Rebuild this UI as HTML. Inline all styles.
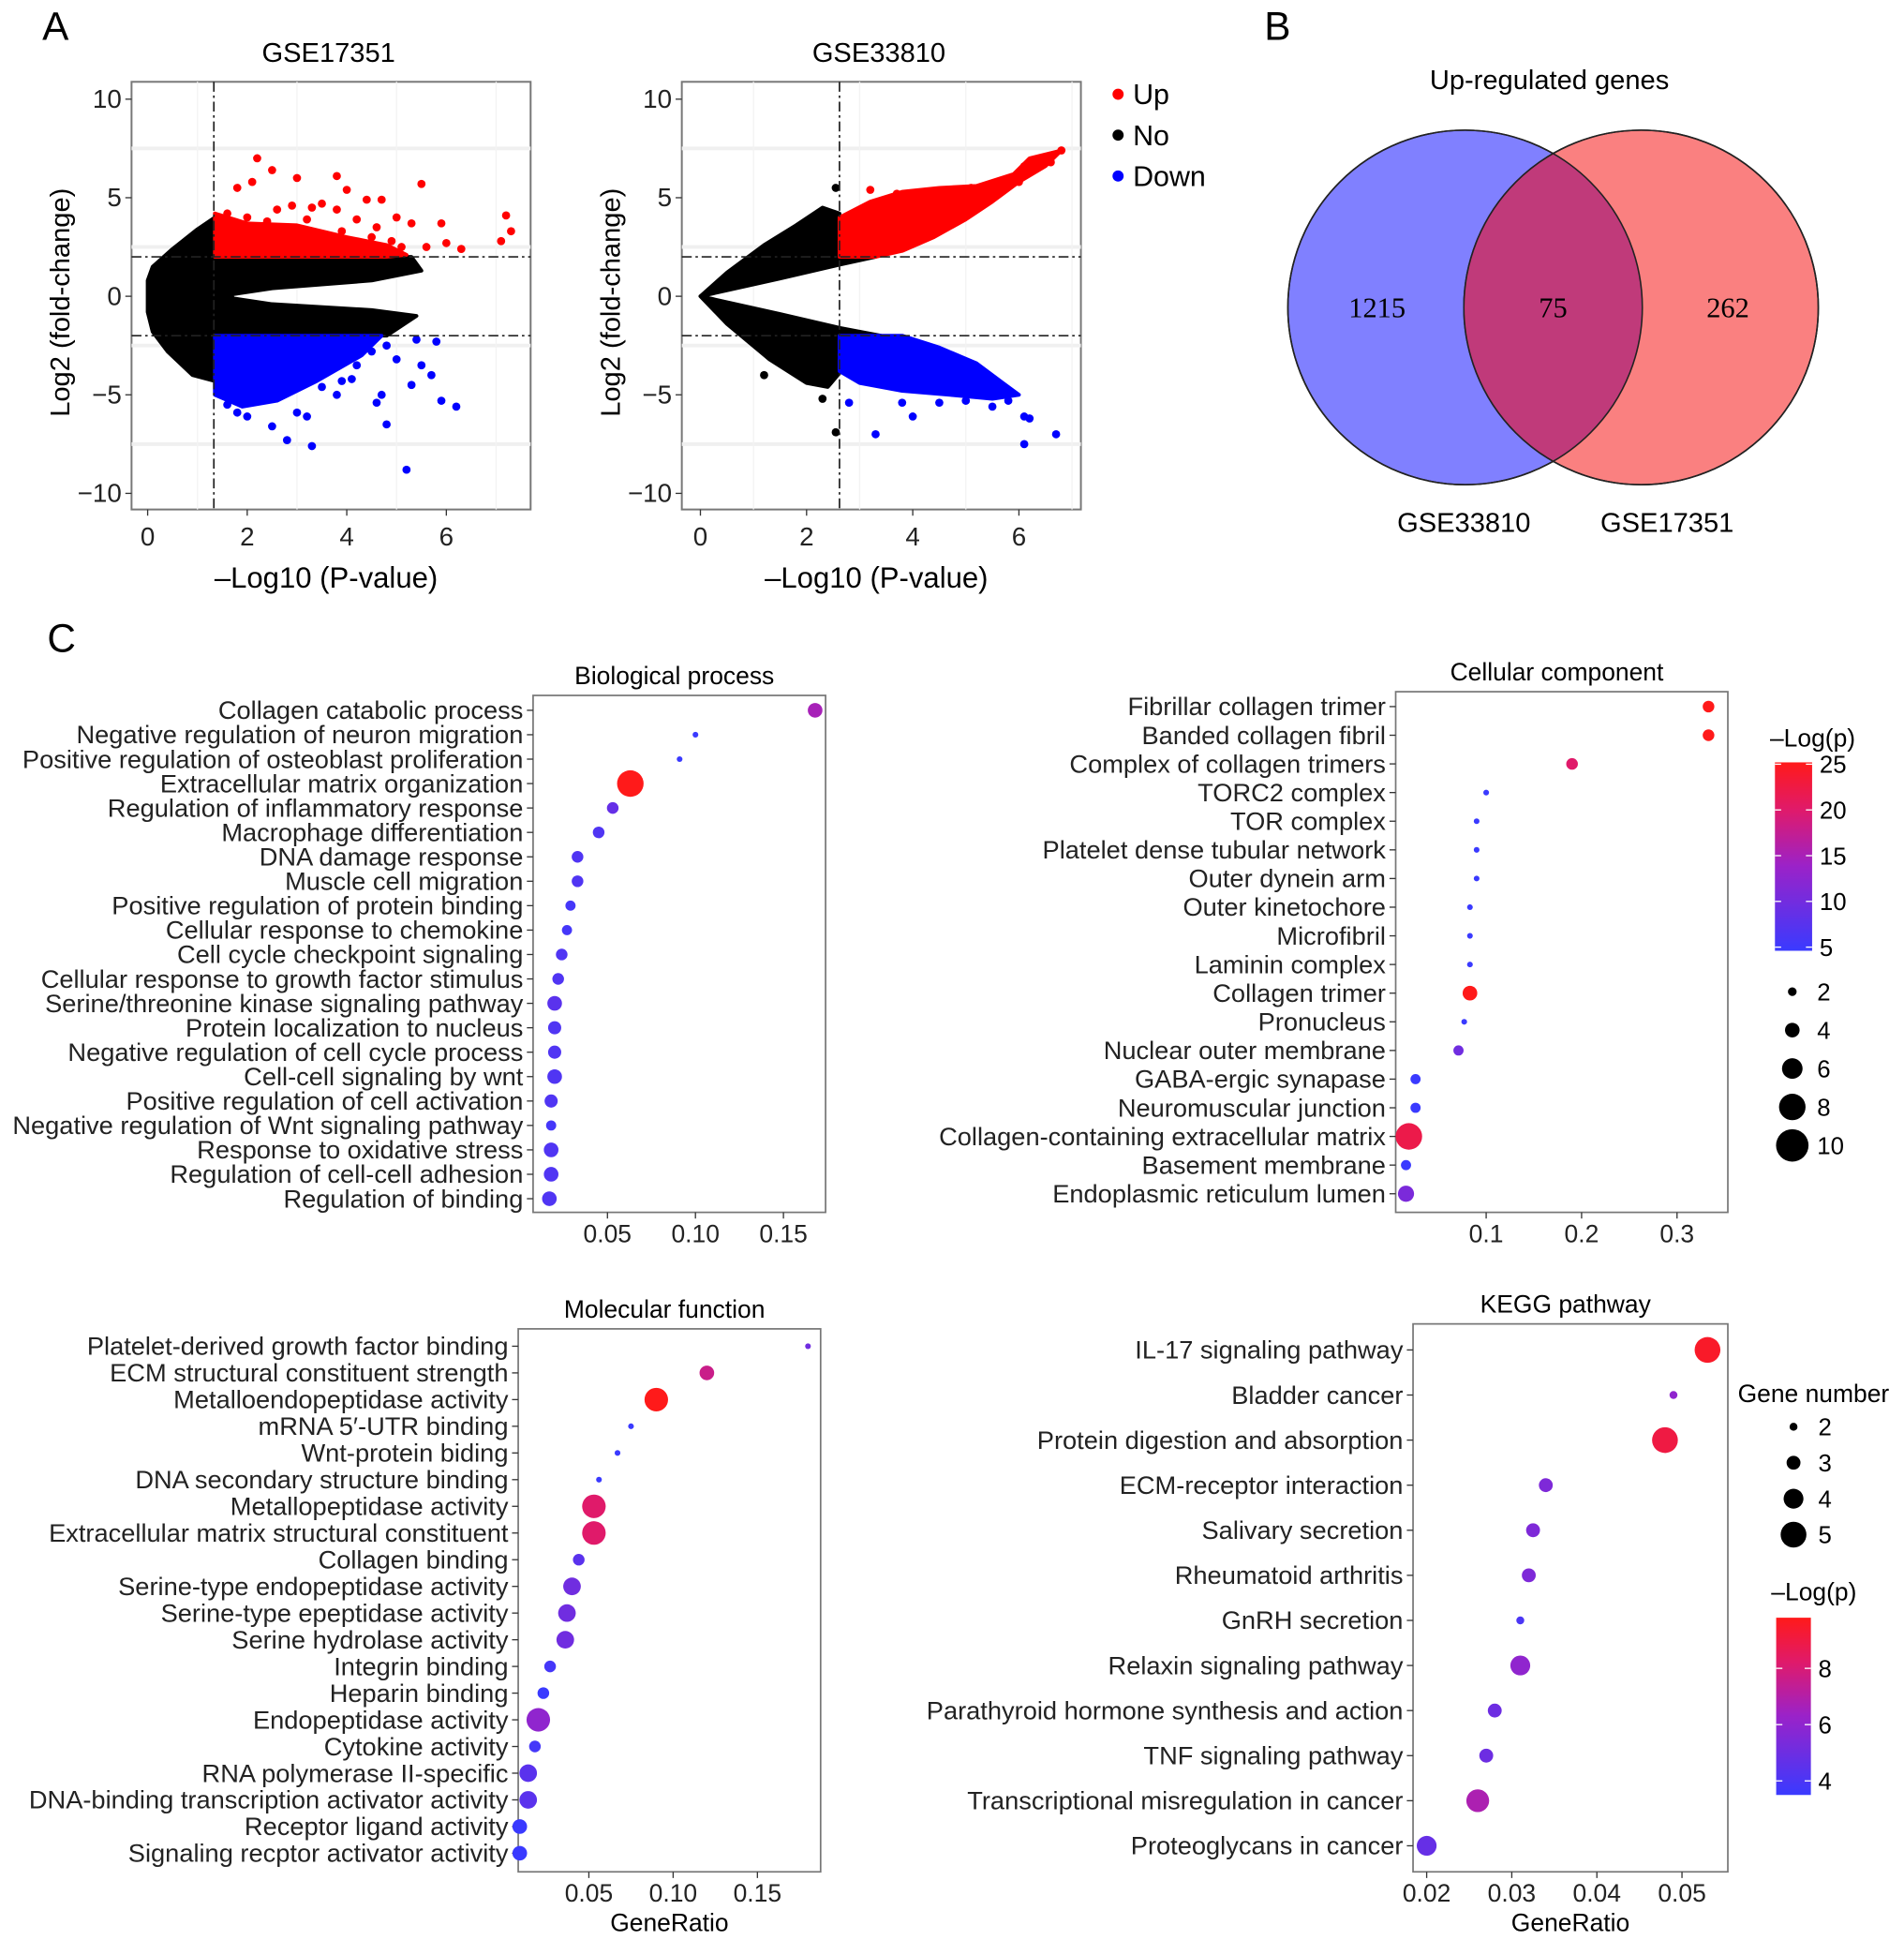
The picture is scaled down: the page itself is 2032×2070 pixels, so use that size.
<!DOCTYPE html>
<html><head><meta charset="utf-8">
<style>
html,body{margin:0;padding:0;background:#fff;}
svg{display:block;font-family:"Liberation Sans",Arial,sans-serif;}
</style></head>
<body>
<svg id="fig" width="2032" height="2070" viewBox="0 0 1536 1565" xmlns="http://www.w3.org/2000/svg">
<g id="root"></g>
</svg>
<script>
// ===== Data =====
const volcYTicks=[10,5,0,-5,-10];
const volcXTicks=[0,2,4,6];
const leftRed=[[2.2,7],[2.5,6.4],[1.8,5.5],[2.1,5.8],[3.0,6.0],[3.8,6.1],[4.0,5.4],[5.5,5.7],[4.4,4.9],[4.7,4.9],[7.2,4.1],[7.3,3.3],[7.1,2.8],[6.0,2.7],[6.3,2.4],[5.9,3.7],[5.3,3.7],[5.0,4.0],[4.6,3.5],[3.8,4.4],[2.9,4.6],[2.0,4.0],[1.6,4.2],[2.6,4.4],[3.3,4.5],[3.5,4.7],[3.2,3.9],[2.4,3.8],[4.2,3.9],[5.1,2.5],[5.6,2.5],[4.9,2.8],[4.5,3.0],[3.9,3.3]];
const leftRedDense=[[1.35,2],[1.35,4.2],[2.0,3.7],[3.0,3.6],[4.0,3.0],[4.8,2.6],[5.2,2.1],[4.8,2.0]];
const leftBlue=[[2.0,-6.1],[2.5,-6.6],[2.8,-7.3],[3.3,-7.6],[5.2,-8.8],[4.8,-6.5],[6.2,-5.6],[5.9,-5.3],[5.5,-3.5],[5.7,-4.0],[5.3,-4.5],[4.7,-5.0],[4.6,-5.4],[3.0,-5.9],[3.2,-6.1],[1.8,-5.9],[1.6,-5.5],[3.8,-5.0],[4.2,-3.5],[4.1,-4.2],[5.0,-3.2],[5.8,-2.3],[5.4,-2.2],[2.2,-5.3],[3.5,-4.6],[4.5,-2.8],[4.8,-2.5],[3.9,-4.3]];
const leftBlueDense=[[1.35,-2],[4.7,-2],[4.3,-3.0],[3.4,-4.3],[2.6,-5.3],[1.9,-5.6],[1.35,-5.0]];
const leftBlack=[[0,-0.8],[0.1,-1.8],[0.4,-2.8],[0.9,-4.0],[1.35,-4.3],[1.35,-2],[4.8,-2],[5.4,-1.0],[4.5,-0.7],[2.5,-0.4],[1.7,-0.1],[1.7,0.1],[2.5,0.4],[4.5,0.8],[5.5,1.3],[5.3,2],[1.35,2],[1.35,4.0],[1.0,3.4],[0.5,2.4],[0.1,1.5],[0,0.8]];
const rightRed=[[2.62,2],[2.62,4.0],[3.2,4.8],[3.8,5.3],[4.5,5.5],[5.2,5.6],[5.9,6.2],[6.2,7.0],[6.8,7.4],[6.5,6.6],[6.0,5.8],[5.5,4.8],[5.0,3.9],[4.4,3.0],[3.8,2.3],[3.3,2.0]];
const rightRedPts=[[3.2,5.4],[3.7,5.2],[4.4,5.1],[5.1,5.5],[5.6,5.6],[6.1,6.6],[6.3,6.7],[6.6,6.8],[6.8,7.4],[6.0,5.8]];
const rightBlue=[[2.62,-2],[3.8,-2],[4.5,-2.6],[5.2,-3.4],[5.7,-4.4],[6.0,-5.0],[5.5,-5.2],[4.7,-5.0],[3.8,-4.8],[3.0,-4.4],[2.62,-3.8]];
const rightBluePts=[[2.8,-5.4],[3.3,-7.0],[3.8,-5.4],[4.0,-6.1],[4.5,-5.4],[5.0,-5.3],[5.5,-5.6],[6.1,-6.1],[6.2,-6.2],[6.1,-7.5],[6.7,-7.0],[5.8,-5.3]];
const rightBlack=[[0,0],[0.5,1.2],[1.2,2.6],[1.8,3.6],[2.3,4.5],[2.62,4.2],[2.62,2],[3.3,2.0],[2.62,1.6],[1.5,0.9],[0,0],[1.5,-0.9],[2.62,-1.6],[3.4,-2.0],[2.62,-2],[2.62,-3.9],[2.4,-4.6],[2.0,-4.4],[1.3,-3.2],[0.5,-1.4]];
const rightBlackPts=[[2.55,5.5],[2.55,-6.9],[2.3,-5.2],[1.2,-4.0]];

// Dot plots: ratio, size (gene count), -log(p)
const bpCats=["Collagen catabolic process","Negative regulation of neuron migration","Positive regulation of osteoblast proliferation","Extracellular matrix organization","Regulation of inflammatory response","Macrophage differentiation","DNA damage response","Muscle cell migration","Positive regulation of protein binding","Cellular response to chemokine","Cell cycle checkpoint signaling","Cellular response to growth factor stimulus","Serine/threonine kinase signaling pathway","Protein localization to nucleus","Negative regulation of cell cycle process","Cell-cell signaling by wnt","Positive regulation of cell activation","Negative regulation of Wnt signaling pathway","Response to oxidative stress","Regulation of cell-cell adhesion","Regulation of binding"];
const bpRatio=[0.168,0.100,0.091,0.063,0.053,0.045,0.033,0.033,0.029,0.027,0.024,0.022,0.020,0.020,0.020,0.020,0.018,0.018,0.018,0.018,0.017];
const bpSize=[4,1,1,8,3,3,3,3,2.5,2.5,3,3,4,3.5,3.5,4,3.5,2.5,4,4,4];
const bpP=[15,5,5,25,9,7,7,7,6,6,7,7,8,7,7,7,7,6,7,7,7];
const bpTicks=[0.05,0.10,0.15];
const ccCats=["Fibrillar collagen trimer","Banded collagen fibril","Complex of collagen trimers","TORC2 complex","TOR complex","Platelet dense tubular network","Outer dynein arm","Outer kinetochore","Microfibril","Laminin complex","Collagen trimer","Pronucleus","Nuclear outer membrane","GABA-ergic synapase","Neuromuscular junction","Collagen-containing extracellular matrix","Basement membrane","Endoplasmic reticulum lumen"];
const ccRatio=[0.333,0.333,0.19,0.10,0.09,0.09,0.09,0.083,0.083,0.083,0.083,0.077,0.071,0.026,0.026,0.019,0.016,0.016];
const ccSize=[3,3,3,1,1,1,1,1,1,1,4,1,2.5,2.5,2.5,8,2.5,4.5];
const ccP=[25,25,20,5,5,5,5,5,5,5,25,5,10,5,5,22,5,11];
const ccTicks=[0.1,0.2,0.3];
const mfCats=["Platelet-derived growth factor binding","ECM structural constituent strength","Metalloendopeptidase activity","mRNA 5\u2032-UTR binding","Wnt-protein biding","DNA secondary structure binding","Metallopeptidase activity","Extracellular matrix structural constituent","Collagen binding","Serine-type endopeptidase activity","Serine-type epeptidase activity","Serine hydrolase activity","Integrin binding","Heparin binding","Endopeptidase activity","Cytokine activity","RNA polymerase II-specific","DNA-binding transcription activator activity","Receptor ligand activity","Signaling recptor activator activity"];
const mfRatio=[0.18,0.12,0.09,0.075,0.067,0.056,0.053,0.053,0.044,0.040,0.037,0.036,0.027,0.023,0.020,0.018,0.014,0.014,0.009,0.009];
const mfSize=[1,4,7,1,1,1,7,7,3,5,5,5,3,3,7,3,5,5,4,4];
const mfP=[10,18,25,5,5,5,20,20,8,10,10,10,6,5,13,6,8,8,5,5];
const mfTicks=[0.05,0.10,0.15];
const kgCats=["IL-17 signaling pathway","Bladder cancer","Protein digestion and absorption","ECM-receptor interaction","Salivary secretion","Rheumatoid arthritis","GnRH secretion","Relaxin signaling pathway","Parathyroid hormone synthesis and action","TNF signaling pathway","Transcriptional misregulation in cancer","Proteoglycans in cancer"];
const kgRatio=[0.053,0.049,0.048,0.034,0.0325,0.032,0.031,0.031,0.028,0.027,0.026,0.020];
const kgSize=[5,2,5,3,3,3,2,4,3,3,4.5,4];
const kgP=[9.5,6,9,5.5,5.5,5.5,4,6,5,5,6.8,4.8];
const kgTicks=[0.02,0.03,0.04,0.05];
const ccSizeLegend=[2,4,6,8,10];
const ccColorTicks=[25,20,15,10,5];
const kgSizeLegend=[2,3,4,5];
const kgColorTicks=[8,6,4];

// ===== Helpers =====
const NS="http://www.w3.org/2000/svg";
const root=document.getElementById('root');
function el(tag,attrs,parent,txt){const e=document.createElementNS(NS,tag);for(const k in attrs)e.setAttribute(k,attrs[k]);if(txt!==undefined)e.textContent=txt;(parent||root).appendChild(e);return e;}
function lin(d0,d1,r0,r1){return v=>r0+(v-d0)*(r1-r0)/(d1-d0);}
function colorFor(t){t=Math.max(0,Math.min(1,t));const stops=[[0,[58,58,255]],[0.45,[155,34,200]],[0.75,[224,26,106]],[1,[255,26,26]]];for(let i=1;i<stops.length;i++){if(t<=stops[i][0]){const a=stops[i-1],b=stops[i];const f=(t-a[0])/(b[0]-a[0]);const c=a[1].map((v,j)=>Math.round(v+(b[1][j]-v)*f));return `rgb(${c[0]},${c[1]},${c[2]})`;}}return 'rgb(255,26,26)';}

// ===== Panel letters =====
let t;
t=el('text',{x:34,y:32,'font-size':32},root,'A');
t=el('text',{x:1020,y:32,'font-size':32},root,'B');
t=el('text',{x:38,y:526,'font-size':32},root,'C');

// ===== Volcano =====
function volcano(name,title,bx0,bx1,xAt0,xAt6,vline,black,blackPts,redPoly,redPts,bluePoly,bluePts){
  const g=el('g',{});
  const X=lin(0,6,xAt0,xAt6),Y=lin(10,-10,80,398);
  el('rect',{x:bx0,y:66,width:bx1-bx0,height:345,fill:'#fff',stroke:'#777','stroke-width':1.5},g);
  [7.5,2.5,-2.5,-7.5].forEach(v=>el('line',{x1:bx0,x2:bx1,y1:Y(v),y2:Y(v),stroke:'#f0f0f0','stroke-width':3},g));
  [1,3,5,7].forEach(v=>{if(X(v)<bx1)el('line',{x1:X(v),x2:X(v),y1:66,y2:411,stroke:'#f3f3f3','stroke-width':1},g);});
  const poly=(pts,fill,nm)=>{const p=el('polygon',{points:pts.map(q=>X(q[0])+','+Y(q[1])).join(' '),fill:fill,stroke:fill,'stroke-width':3,'stroke-linejoin':'round'},g);};
  poly(black,'#000','no-change-points');
  poly(redPoly,'#ff0000','up-points-dense');
  poly(bluePoly,'#0000ff','down-points-dense');
  const dots=(pts,fill,nm)=>pts.forEach(q=>{const c=el('circle',{cx:X(q[0]),cy:Y(q[1]),r:3.3,fill:fill},g);});
  dots(blackPts,'#000','no-point');dots(redPts,'#ff0000','up-point');dots(bluePts,'#0000ff','down-point');
  el('line',{x1:X(vline),x2:X(vline),y1:66,y2:411,stroke:'#222','stroke-width':1.3,'stroke-dasharray':'8 3 2 3'},g);
  [2,-2].forEach(v=>el('line',{x1:bx0,x2:bx1,y1:Y(v),y2:Y(v),stroke:'#222','stroke-width':1.3,'stroke-dasharray':'8 3 2 3'},g));
  volcYTicks.forEach(v=>{el('line',{x1:bx0-5,x2:bx0,y1:Y(v),y2:Y(v),stroke:'#333'},g);const tt=el('text',{x:bx0-8,y:Y(v)+7,'font-size':21,'text-anchor':'end',fill:'#222'},g,(v<0?'\u2212':'')+Math.abs(v));});
  volcXTicks.forEach(v=>{el('line',{x1:X(v),x2:X(v),y1:411,y2:416,stroke:'#333'},g);const tt=el('text',{x:X(v),y:440,'font-size':21,'text-anchor':'middle',fill:'#222'},g,String(v));});
  let a=el('text',{x:(bx0+bx1)/2-2,y:50,'font-size':22,'text-anchor':'middle'},g,title);
  a=el('text',{x:(bx0+bx1)/2-4,y:474,'font-size':23.5,'text-anchor':'middle'},g,'\u2013Log10 (P-value)');
  const yx=bx0-50;a=el('text',{x:yx,y:244,'font-size':22,'text-anchor':'middle',transform:`rotate(-90 ${yx} 244)`},g,'Log2 (fold-change)');
}
volcano('volcano-gse17351','GSE17351',106,428,119,360,1.33,leftBlack,[],leftRedDense,leftRed,leftBlueDense,leftBlue);
volcano('volcano-gse33810','GSE33810',550,872,565,822,2.62,rightBlack,rightBlackPts,rightRed,rightRedPts,rightBlue,rightBluePts);
// legend
[['Up','#ff0000',76],['No','#000',109],['Down','#0000ff',142]].forEach(d=>{const g=el('g',{});el('circle',{cx:902,cy:d[2],r:4.5,fill:d[1]},g);el('text',{x:914,y:d[2]+8,'font-size':23},g,d[0]);});

// ===== Venn =====
(function(){const g=el('g',{});
el('circle',{cx:1182,cy:248,r:143,fill:'#8080ff',stroke:'#222','stroke-width':1.2},g);
el('circle',{cx:1324,cy:248,r:143,fill:'#fa8080',stroke:'#222','stroke-width':1.2},g);
el('defs',{},g).innerHTML='<clipPath id="vc"><circle cx="1182" cy="248" r="143"/></clipPath>';
el('circle',{cx:1324,cy:248,r:143,fill:'#c03a7a','clip-path':'url(#vc)',stroke:'none'},g);
el('circle',{cx:1182,cy:248,r:143,fill:'none',stroke:'#222','stroke-width':1.2},g);
el('circle',{cx:1324,cy:248,r:143,fill:'none',stroke:'#222','stroke-width':1.2},g);
[['1215',1111],['75',1253],['262',1394]].forEach(d=>{const tt=el('text',{x:d[1],y:256,'font-size':23,'text-anchor':'middle','font-family':'Liberation Serif, serif'},g,d[0]);});
let a=el('text',{x:1250,y:72,'font-size':22,'text-anchor':'middle'},g,'Up-regulated genes');
a=el('text',{x:1181,y:429,'font-size':22,'text-anchor':'middle'},g,'GSE33810');
a=el('text',{x:1345,y:429,'font-size':22,'text-anchor':'middle'},g,'GSE17351');
})();

// ===== Dot plots =====
function dotplot(name,title,cats,ratio,size,pv,box,xd,xr,ticks,tickFmt,pmin,pmax,rFn,xlabel){
  const g=el('g',{});
  const X=lin(xd[0],xd[1],xr[0],xr[1]);
  const [x0,y0,x1,y1,r0,r1]=box;const Y=i=>r0+i*(r1-r0)/(cats.length-1);
  el('rect',{x:x0,y:y0,width:x1-x0,height:y1-y0,fill:'#fff',stroke:'#777','stroke-width':1.3},g);
  let a=el('text',{x:(x0+x1)/2-4,y:y0-9,'font-size':20,'text-anchor':'middle'},g,title);
  cats.forEach((c,i)=>{el('line',{x1:x0-5,x2:x0,y1:Y(i),y2:Y(i),stroke:'#333'},g);
    const tt=el('text',{x:x0-8,y:Y(i)+7,'font-size':20.6,'text-anchor':'end',fill:'#222'},g,c);
    const d=el('circle',{cx:X(ratio[i]),cy:Y(i),r:rFn(size[i]),fill:colorFor((pv[i]-pmin)/(pmax-pmin))},g);});
  ticks.forEach(v=>{el('line',{x1:X(v),x2:X(v),y1:y1,y2:y1+5,stroke:'#333'},g);const tt=el('text',{x:X(v),y:y1+24,'font-size':20,'text-anchor':'middle',fill:'#222'},g,tickFmt(v));});
  if(xlabel){a=el('text',{x:(x0+x1)/2,y:y1+48,'font-size':20,'text-anchor':'middle'},g,xlabel);}
}
const rGO=s=>1.1+1.2*s;
const rKG=s=>2.4*s-1.6;
dotplot('bp-dotplot','Biological process',bpCats,bpRatio,bpSize,bpP,[430,561,666,978,573,967],[0.05,0.15],[490,632],bpTicks,v=>v.toFixed(2),5,25,rGO,null);
dotplot('cc-dotplot','Cellular component',ccCats,ccRatio,ccSize,ccP,[1126,558,1394,978,570,963],[0.1,0.3],[1199,1353],ccTicks,v=>v.toFixed(1),5,25,rGO,null);
dotplot('mf-dotplot','Molecular function',mfCats,mfRatio,mfSize,mfP,[418,1072,662,1510,1086,1495],[0.05,0.15],[475,611],mfTicks,v=>v.toFixed(2),5,25,rGO,'GeneRatio');
dotplot('kegg-dotplot','KEGG pathway',kgCats,kgRatio,kgSize,kgP,[1140,1068,1394,1510,1089,1489],[0.02,0.05],[1151,1357],kgTicks,v=>v.toFixed(2),3.5,9.8,rKG,'GeneRatio');

// ===== Legends =====
function colorbar(name,x,y0,y1,w,ticks,tmin,tmax,title,ty){
  const g=el('g',{});
  const id='grad'+name;el('defs',{},g).innerHTML=`<linearGradient id="${id}" x1="0" y1="1" x2="0" y2="0">${[0,0.25,0.45,0.6,0.75,1].map(s=>`<stop offset="${s}" stop-color="${colorFor(s)}"/>`).join('')}</linearGradient>`;
  el('rect',{x:x,y:y0,width:w,height:y1-y0,fill:`url(#${id})`},g);
  const Y=lin(tmin,tmax,y1,y0);
  ticks.forEach(v=>{el('line',{x1:x,x2:x+5,y1:Y(v),y2:Y(v),stroke:'#fff'},g);el('line',{x1:x+w-5,x2:x+w,y1:Y(v),y2:Y(v),stroke:'#fff'},g);const tt=el('text',{x:x+w+6,y:Y(v)+7,'font-size':19.5},g,String(v));});
  const a=el('text',{x:x-4,y:ty,'font-size':20},g,title);
}
colorbar('cc-colorbar',1432,615,767,30,ccColorTicks,4.6,25.2,'\u2013Log(p)',602);
colorbar('kegg-colorbar',1433,1305,1448,28,kgColorTicks,3.5,9.8,'\u2013Log(p)',1291);
function sizeLegend(name,vals,x,y0,step,rFn,title,tx,ty){
  const g=el('g',{});
  if(title){const a=el('text',{x:tx,y:ty,'font-size':20},g,title);}
  vals.forEach((v,i)=>{const c=el('circle',{cx:x,cy:y0+i*step,r:rFn(v),fill:'#000'},g);const tt=el('text',{x:x+20,y:y0+i*step+7,'font-size':19.5},g,String(v));});
}
sizeLegend('cc-size-legend',ccSizeLegend,1446,800,31,rGO,null);
sizeLegend('kegg-size-legend',kgSizeLegend,1447,1151,29,rKG,'Gene number',1402,1131);
</script>
</body></html>
